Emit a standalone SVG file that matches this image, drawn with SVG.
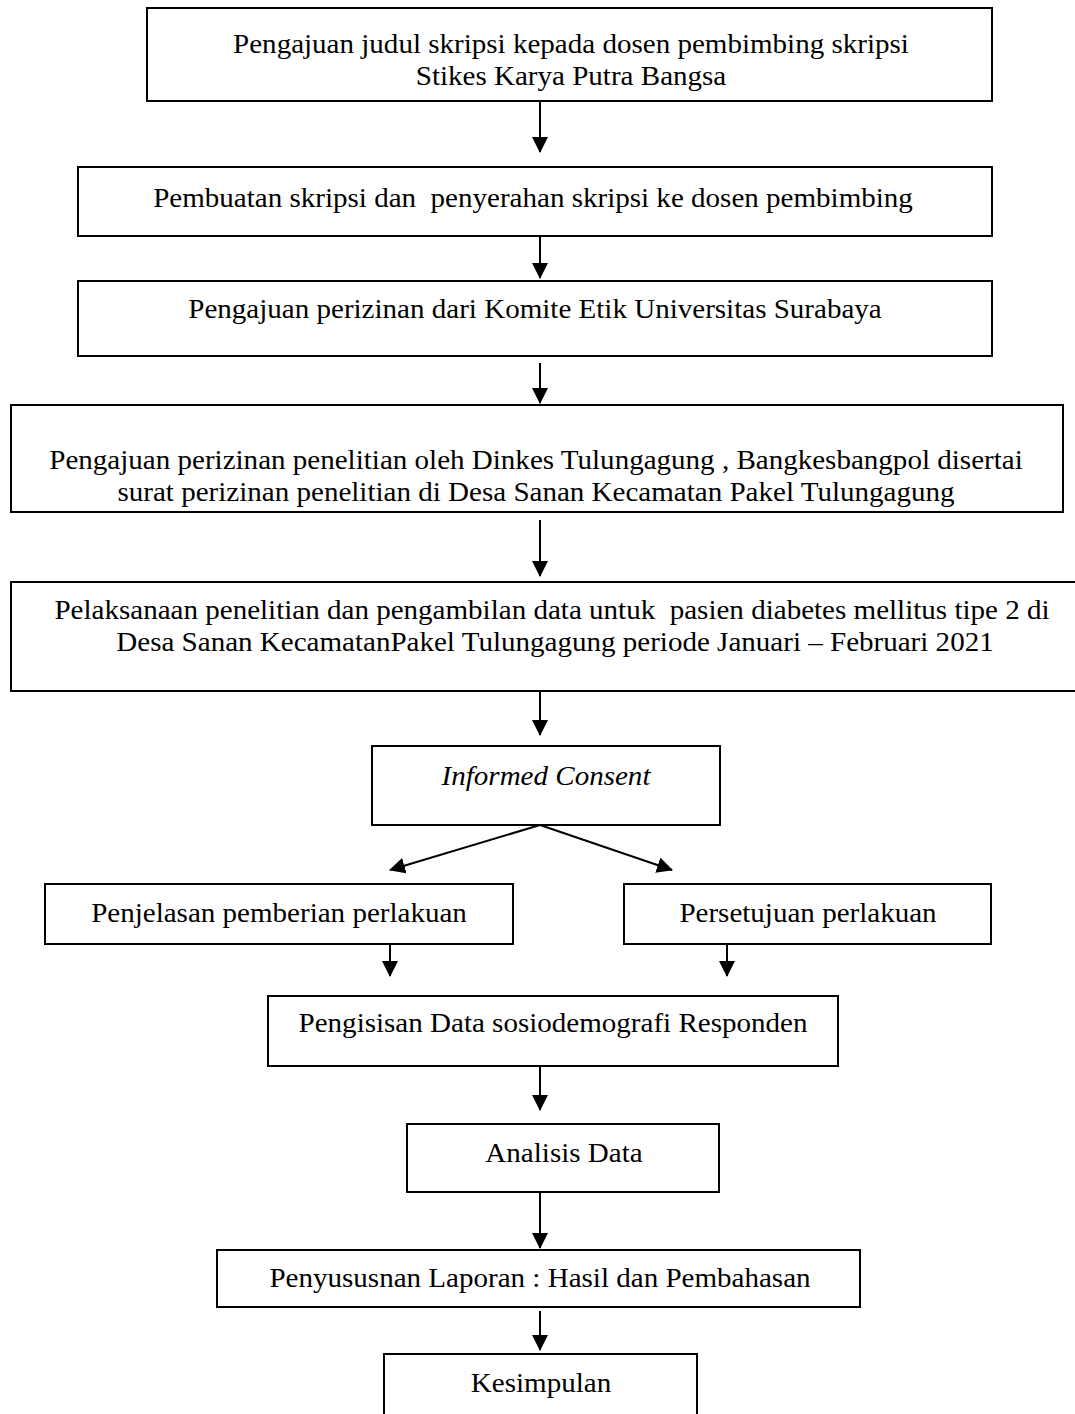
<svg xmlns="http://www.w3.org/2000/svg" width="1075" height="1414" viewBox="0 0 1075 1414">
<style>
.box{fill:#fff;stroke:#000;stroke-width:2}
.t{font-family:"Liberation Serif","Times New Roman",serif;font-size:26.4px;fill:#000;text-anchor:middle}
.i{font-style:italic}
.c{stroke:#000;stroke-width:2;fill:none}
</style>
<defs>
<marker id="ah" viewBox="0 0 16 16" refX="15" refY="8" markerWidth="16" markerHeight="16" markerUnits="userSpaceOnUse" orient="auto">
<path d="M0,0 L16,8 L0,16 Z" fill="#000"/>
</marker>
</defs>
<rect width="1075" height="1414" fill="#fff"/>
<g id="n1"><rect class="box" x="147" y="8" width="845" height="93"/>
<text class="t" transform="matrix(1.1 0 0 1 571 53)">Pengajuan judul skripsi kepada dosen pembimbing skripsi</text>
<text class="t" transform="matrix(1.1 0 0 1 571 85)">Stikes Karya Putra Bangsa</text></g>
<g id="n2"><rect class="box" x="78" y="167" width="914" height="69"/>
<text class="t" transform="matrix(1.1 0 0 1 533 207)" xml:space="preserve">Pembuatan skripsi dan  penyerahan skripsi ke dosen pembimbing</text></g>
<g id="n3"><rect class="box" x="78" y="281" width="914" height="75"/>
<text class="t" transform="matrix(1.1 0 0 1 535 318)">Pengajuan perizinan dari Komite Etik Universitas Surabaya</text></g>
<g id="n4"><rect class="box" x="11" y="405" width="1052" height="107"/>
<text class="t" transform="matrix(1.1 0 0 1 536 469)">Pengajuan perizinan penelitian oleh Dinkes Tulungagung , Bangkesbangpol disertai</text>
<text class="t" transform="matrix(1.1 0 0 1 536 501)">surat perizinan penelitian di Desa Sanan Kecamatan Pakel Tulungagung</text></g>
<g id="n5"><rect class="box" x="11" y="582" width="1090" height="109"/>
<text class="t" transform="matrix(1.1 0 0 1 552 619)" xml:space="preserve">Pelaksanaan penelitian dan pengambilan data untuk  pasien diabetes mellitus tipe 2 di</text>
<text class="t" transform="matrix(1.1 0 0 1 555 651)">Desa Sanan KecamatanPakel Tulungagung periode Januari – Februari 2021</text></g>
<g id="n6"><rect class="box" x="372" y="746" width="348" height="79"/>
<text class="t i" transform="matrix(1.1 0 0 1 546 785)">Informed Consent</text></g>
<g id="n7"><rect class="box" x="45" y="884" width="468" height="60"/>
<text class="t" transform="matrix(1.1 0 0 1 279 922)">Penjelasan pemberian perlakuan</text></g>
<g id="n8"><rect class="box" x="624" y="884" width="367" height="60"/>
<text class="t" transform="matrix(1.1 0 0 1 808 922)">Persetujuan perlakuan</text></g>
<g id="n9"><rect class="box" x="268" y="996" width="570" height="70"/>
<text class="t" transform="matrix(1.1 0 0 1 553 1032)">Pengisisan Data sosiodemografi Responden</text></g>
<g id="n10"><rect class="box" x="407" y="1124" width="312" height="68"/>
<text class="t" transform="matrix(1.1 0 0 1 564 1162)">Analisis Data</text></g>
<g id="n11"><rect class="box" x="217" y="1250" width="643" height="57"/>
<text class="t" transform="matrix(1.1 0 0 1 540 1287)">Penyususnan Laporan : Hasil dan Pembahasan</text></g>
<g id="n12"><rect class="box" x="384" y="1354" width="313" height="80"/>
<text class="t" transform="matrix(1.1 0 0 1 541 1392)">Kesimpulan</text></g>
<g id="connectors">
<line class="c" x1="540" y1="101" x2="540" y2="152" marker-end="url(#ah)"/>
<line class="c" x1="540" y1="236" x2="540" y2="278" marker-end="url(#ah)"/>
<line class="c" x1="540" y1="363" x2="540" y2="403" marker-end="url(#ah)"/>
<line class="c" x1="540" y1="520" x2="540" y2="576" marker-end="url(#ah)"/>
<line class="c" x1="540" y1="691" x2="540" y2="735" marker-end="url(#ah)"/>
<line class="c" x1="540" y1="825" x2="390" y2="870" marker-end="url(#ah)"/>
<line class="c" x1="540" y1="825" x2="672" y2="870" marker-end="url(#ah)"/>
<line class="c" x1="390" y1="944" x2="390" y2="976" marker-end="url(#ah)"/>
<line class="c" x1="727" y1="944" x2="727" y2="976" marker-end="url(#ah)"/>
<line class="c" x1="540" y1="1066" x2="540" y2="1110" marker-end="url(#ah)"/>
<line class="c" x1="540" y1="1192" x2="540" y2="1248" marker-end="url(#ah)"/>
<line class="c" x1="540" y1="1311" x2="540" y2="1350" marker-end="url(#ah)"/>
</g>
</svg>
